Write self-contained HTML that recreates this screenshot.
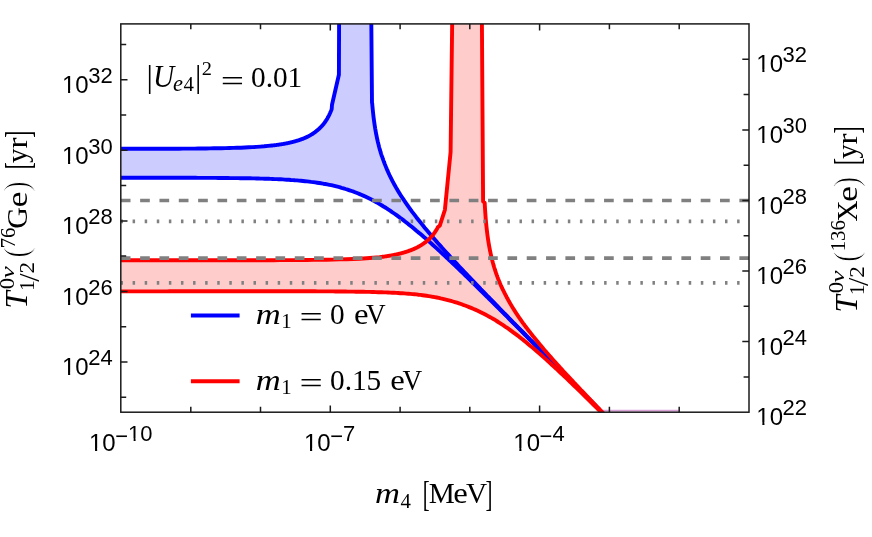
<!DOCTYPE html>
<html><head><meta charset="utf-8"><title>plot</title>
<style>html,body{margin:0;padding:0;background:#fff;overflow:hidden}body{width:872px;height:537px;position:relative;font-family:"Liberation Sans",sans-serif}</style>
</head><body>
<svg width="872" height="537" viewBox="0 0 872 537" style="position:absolute;left:0;top:0">
<defs><clipPath id="c"><rect x="120.8" y="23.9" width="628.2" height="388.3"/></clipPath></defs>
<rect width="872" height="537" fill="#fff"/>
<g clip-path="url(#c)">
<path d="M120.8,148.8 L124.7,148.8 L128.6,148.8 L132.4,148.8 L136.3,148.8 L140.2,148.8 L144.1,148.8 L147.9,148.8 L151.8,148.7 L155.7,148.7 L159.6,148.7 L163.4,148.7 L167.3,148.7 L171.2,148.7 L175.1,148.7 L179.0,148.7 L182.8,148.6 L186.7,148.6 L190.6,148.6 L194.5,148.6 L198.3,148.5 L202.2,148.5 L206.1,148.5 L210.0,148.4 L213.8,148.3 L217.7,148.3 L221.6,148.2 L225.5,148.1 L229.4,148.0 L233.2,147.9 L237.1,147.8 L241.0,147.7 L244.9,147.5 L248.7,147.3 L252.6,147.1 L256.5,146.9 L260.4,146.6 L264.2,146.3 L268.1,145.9 L272.0,145.5 L272.0,145.5 L272.3,145.5 L272.6,145.5 L272.9,145.4 L273.2,145.4 L273.5,145.4 L273.8,145.3 L274.1,145.3 L274.4,145.2 L274.7,145.2 L275.0,145.2 L275.3,145.1 L275.6,145.1 L275.9,145.1 L276.2,145.0 L276.5,145.0 L276.8,144.9 L277.1,144.9 L277.4,144.9 L277.7,144.8 L278.0,144.8 L278.3,144.7 L278.6,144.7 L278.9,144.6 L279.2,144.6 L279.5,144.5 L279.8,144.5 L280.1,144.5 L280.4,144.4 L280.7,144.4 L281.0,144.3 L281.3,144.3 L281.6,144.2 L281.9,144.2 L282.3,144.1 L282.6,144.1 L282.9,144.0 L283.2,144.0 L283.5,143.9 L283.8,143.9 L284.1,143.8 L284.4,143.7 L284.7,143.7 L285.0,143.6 L285.3,143.6 L285.6,143.5 L285.9,143.5 L286.2,143.4 L286.5,143.3 L286.8,143.3 L287.1,143.2 L287.4,143.2 L287.7,143.1 L288.0,143.0 L288.3,143.0 L288.6,142.9 L288.9,142.8 L289.2,142.8 L289.5,142.7 L289.8,142.6 L290.1,142.6 L290.4,142.5 L290.7,142.4 L291.0,142.4 L291.3,142.3 L291.6,142.2 L291.9,142.1 L292.2,142.1 L292.5,142.0 L292.8,141.9 L293.1,141.8 L293.4,141.8 L293.7,141.7 L294.0,141.6 L294.3,141.5 L294.6,141.4 L294.9,141.4 L295.2,141.3 L295.5,141.2 L295.8,141.1 L296.1,141.0 L296.4,140.9 L296.7,140.8 L297.0,140.7 L297.3,140.7 L297.6,140.6 L297.9,140.5 L298.2,140.4 L298.5,140.3 L298.8,140.2 L299.1,140.1 L299.4,140.0 L299.7,139.9 L300.0,139.8 L300.3,139.7 L300.6,139.6 L300.9,139.4 L301.2,139.3 L301.5,139.2 L301.8,139.1 L302.2,139.0 L302.5,138.9 L302.8,138.8 L303.1,138.6 L303.4,138.5 L303.7,138.4 L304.0,138.3 L304.3,138.2 L304.6,138.0 L304.9,137.9 L305.2,137.8 L305.5,137.6 L305.8,137.5 L306.1,137.4 L306.4,137.2 L306.7,137.1 L307.0,136.9 L307.3,136.8 L307.6,136.6 L307.9,136.5 L308.2,136.3 L308.5,136.2 L308.8,136.0 L309.1,135.9 L309.4,135.7 L309.7,135.5 L310.0,135.4 L310.3,135.2 L310.6,135.0 L310.9,134.9 L311.2,134.7 L311.5,134.5 L311.8,134.3 L312.1,134.1 L312.4,133.9 L312.7,133.8 L313.0,133.6 L313.3,133.4 L313.6,133.2 L313.9,133.0 L314.2,132.7 L314.5,132.5 L314.8,132.3 L315.1,132.1 L315.4,131.9 L315.7,131.7 L316.0,131.4 L316.3,131.2 L316.6,130.9 L316.9,130.7 L317.2,130.5 L317.5,130.2 L317.8,129.9 L318.1,129.7 L318.4,129.4 L318.7,129.1 L319.0,128.9 L319.3,128.6 L319.6,128.3 L319.9,128.0 L320.2,127.7 L320.5,127.4 L320.8,127.1 L321.1,126.8 L321.4,126.4 L321.7,126.1 L322.1,125.8 L322.4,125.4 L322.7,125.1 L323.0,124.7 L323.3,124.4 L323.6,124.0 L323.9,123.6 L324.2,123.2 L324.5,122.8 L324.8,122.4 L325.1,122.0 L325.4,121.5 L325.7,121.1 L326.0,120.6 L326.3,120.2 L326.6,119.7 L326.9,119.2 L327.2,118.7 L327.5,118.2 L327.8,117.6 L328.1,117.1 L328.4,116.5 L328.7,116.0 L329.0,115.4 L329.3,114.8 L329.6,114.1 L329.9,113.5 L330.2,112.8 L330.5,112.1 L330.8,111.4 L331.1,110.6 L331.4,109.9 L331.7,109.1 L332.0,104.7 L338.9,74.8 L339.1,20.0 L371.3,20.0 L372.0,102.8 L372.2,103.4 L372.4,105.8 L372.6,108.0 L372.8,110.1 L373.0,112.1 L373.2,113.9 L373.4,115.7 L373.6,117.4 L373.8,119.0 L374.0,120.5 L374.2,122.0 L374.4,123.4 L374.6,124.8 L374.8,126.1 L375.0,127.3 L375.2,128.6 L375.4,129.7 L375.6,130.9 L375.8,132.0 L376.0,133.1 L376.2,134.1 L376.4,135.2 L376.6,136.2 L376.8,137.1 L377.0,138.1 L377.2,139.0 L377.4,139.9 L377.6,140.8 L377.8,141.7 L378.0,142.5 L378.2,143.3 L378.4,144.1 L378.6,144.9 L378.8,145.7 L379.0,146.5 L379.2,147.2 L379.4,148.0 L379.6,148.7 L379.8,149.4 L380.0,150.1 L380.2,150.8 L380.4,151.5 L380.6,152.2 L380.8,152.8 L381.0,153.5 L381.2,154.1 L381.4,154.8 L381.6,155.4 L381.8,156.0 L382.1,156.6 L382.3,157.2 L382.5,157.8 L382.7,158.4 L382.9,159.0 L383.1,159.5 L383.3,160.1 L383.5,160.6 L383.7,161.2 L383.9,161.7 L384.1,162.3 L384.3,162.8 L384.5,163.3 L384.7,163.9 L384.9,164.4 L385.1,164.9 L385.3,165.4 L385.5,165.9 L385.7,166.4 L385.9,166.9 L386.1,167.4 L386.3,167.9 L386.5,168.3 L386.7,168.8 L386.9,169.3 L387.1,169.7 L387.3,170.2 L387.5,170.7 L387.7,171.1 L387.9,171.6 L388.1,172.0 L388.3,172.5 L388.5,172.9 L388.7,173.3 L388.9,173.8 L389.1,174.2 L389.3,174.6 L389.5,175.0 L389.7,175.5 L389.9,175.9 L390.1,176.3 L390.3,176.7 L390.5,177.1 L390.7,177.5 L390.9,177.9 L391.1,178.3 L391.3,178.7 L391.5,179.1 L391.7,179.5 L391.9,179.9 L392.1,180.3 L392.3,180.7 L392.5,181.1 L392.7,181.5 L392.9,181.8 L393.1,182.2 L393.3,182.6 L393.5,183.0 L393.7,183.3 L393.9,183.7 L394.1,184.1 L394.3,184.4 L394.5,184.8 L394.7,185.2 L394.9,185.5 L395.1,185.9 L395.3,186.2 L395.5,186.6 L395.7,187.0 L395.9,187.3 L396.1,187.7 L396.3,188.0 L396.5,188.3 L396.7,188.7 L396.9,189.0 L397.1,189.4 L397.3,189.7 L397.5,190.1 L397.7,190.4 L397.9,190.7 L398.1,191.1 L398.3,191.4 L398.5,191.7 L398.7,192.1 L398.9,192.4 L399.1,192.7 L399.3,193.0 L399.5,193.4 L399.7,193.7 L399.9,194.0 L400.1,194.3 L400.3,194.6 L400.5,195.0 L400.7,195.3 L400.9,195.6 L401.1,195.9 L401.3,196.2 L401.5,196.5 L401.7,196.8 L401.9,197.2 L402.2,197.5 L402.4,197.8 L402.6,198.1 L402.8,198.4 L403.0,198.7 L403.2,199.0 L403.4,199.3 L403.6,199.6 L403.8,199.9 L404.0,200.2 L404.2,200.5 L404.4,200.8 L404.6,201.1 L404.8,201.4 L405.0,201.7 L405.2,202.0 L405.4,202.3 L405.6,202.6 L405.8,202.9 L406.0,203.2 L406.2,203.5 L406.4,203.7 L406.6,204.0 L406.8,204.3 L407.0,204.6 L407.2,204.9 L407.4,205.2 L407.6,205.5 L407.8,205.7 L408.0,206.0 L408.2,206.3 L408.4,206.6 L408.6,206.9 L408.8,207.2 L409.0,207.4 L409.2,207.7 L409.4,208.0 L409.6,208.3 L409.8,208.5 L410.0,208.8 L410.2,209.1 L410.4,209.4 L410.6,209.7 L410.8,209.9 L411.0,210.2 L411.2,210.5 L411.4,210.7 L411.6,211.0 L411.8,211.3 L412.0,211.6 L412.0,211.6 L414.2,214.4 L416.3,217.2 L418.5,220.0 L420.6,222.6 L422.8,225.3 L424.9,227.9 L427.1,230.5 L429.2,233.0 L431.4,235.6 L433.5,238.0 L435.7,240.5 L437.8,243.0 L440.0,245.4 L442.1,247.8 L444.3,250.2 L446.4,252.5 L448.6,254.9 L450.7,257.2 L452.9,259.6 L455.0,261.9 L457.2,264.2 L459.3,266.5 L461.5,268.8 L463.6,271.1 L465.8,273.3 L467.9,275.6 L470.1,277.9 L472.2,280.1 L474.4,282.4 L476.5,284.6 L478.7,286.9 L480.8,289.1 L483.0,291.3 L485.2,293.6 L487.3,295.8 L489.5,298.0 L491.6,300.2 L493.8,302.4 L495.9,304.6 L498.1,306.9 L500.2,309.1 L502.4,311.3 L504.5,313.5 L506.7,315.7 L508.8,317.9 L511.0,320.1 L513.1,322.3 L515.3,324.5 L517.4,326.7 L519.6,328.8 L521.7,331.0 L523.9,333.2 L526.0,335.4 L528.2,337.6 L530.3,339.8 L532.5,342.0 L534.6,344.2 L536.8,346.4 L538.9,348.5 L541.1,350.7 L543.2,352.9 L545.4,355.1 L547.5,357.3 L549.7,359.5 L551.8,361.6 L554.0,363.8 L556.2,366.0 L558.3,368.2 L560.5,370.4 L562.6,372.5 L564.8,374.7 L566.9,376.9 L569.1,379.1 L571.2,381.3 L573.4,383.4 L575.5,385.6 L577.7,387.8 L579.8,390.0 L582.0,392.2 L584.1,394.3 L586.3,396.5 L588.4,398.7 L590.6,400.9 L592.7,403.0 L594.9,405.2 L597.0,407.4 L599.2,409.6 L601.3,411.8 L603.5,413.9 L605.6,416.1 L606.8,417.3 L604.8,415.2 L602.7,413.2 L600.7,411.1 L598.7,409.1 L596.7,407.1 L594.6,405.0 L592.6,403.0 L590.6,400.9 L588.6,398.9 L586.5,396.8 L584.5,394.8 L582.5,392.7 L580.5,390.7 L578.4,388.6 L576.4,386.6 L574.4,384.5 L572.4,382.5 L570.3,380.4 L568.3,378.4 L566.3,376.4 L564.3,374.3 L562.2,372.3 L560.2,370.2 L558.2,368.2 L556.2,366.1 L554.1,364.1 L552.1,362.0 L550.1,360.0 L548.1,358.0 L546.0,355.9 L544.0,353.9 L542.0,351.8 L540.0,349.8 L537.9,347.8 L535.9,345.7 L533.9,343.7 L531.9,341.6 L529.8,339.6 L527.8,337.6 L525.8,335.5 L523.8,333.5 L521.7,331.4 L519.7,329.4 L517.7,327.4 L515.7,325.3 L513.6,323.3 L511.6,321.3 L509.6,319.3 L507.6,317.2 L505.5,315.2 L503.5,313.2 L501.5,311.2 L499.5,309.1 L497.4,307.1 L495.4,305.1 L493.4,303.1 L491.4,301.1 L489.3,299.1 L487.3,297.0 L485.3,295.0 L483.3,293.0 L481.2,291.0 L479.2,289.0 L477.2,287.0 L475.2,285.1 L473.1,283.1 L471.1,281.1 L469.1,279.1 L467.1,277.1 L465.0,275.2 L463.0,273.2 L461.0,271.3 L459.0,269.3 L456.9,267.4 L454.9,265.4 L452.9,263.5 L450.9,261.6 L448.8,259.7 L446.8,257.8 L444.8,255.9 L442.8,254.0 L440.7,252.1 L438.7,250.2 L436.7,248.4 L434.7,246.6 L432.6,244.7 L430.6,242.9 L428.6,241.1 L426.6,239.3 L424.5,237.6 L422.5,235.8 L420.5,234.1 L418.5,232.4 L416.4,230.7 L414.4,229.0 L412.4,227.3 L410.4,225.7 L408.3,224.1 L406.3,222.5 L404.3,220.9 L402.3,219.4 L400.2,217.9 L398.2,216.4 L396.2,214.9 L394.2,213.5 L392.1,212.1 L390.1,210.7 L388.1,209.4 L386.1,208.0 L384.0,206.8 L382.0,205.5 L380.0,204.3 L378.0,203.1 L375.9,202.0 L373.9,200.9 L371.9,199.8 L369.9,198.8 L367.8,197.8 L365.8,196.8 L363.8,195.9 L361.8,195.0 L359.7,194.1 L357.7,193.3 L355.7,192.5 L353.7,191.7 L351.6,191.0 L349.6,190.3 L347.6,189.6 L345.6,189.0 L343.5,188.3 L341.5,187.8 L339.5,187.2 L337.5,186.7 L335.4,186.2 L333.4,185.7 L331.4,185.2 L329.4,184.8 L327.3,184.4 L325.3,184.0 L323.3,183.7 L321.3,183.3 L319.2,183.0 L317.2,182.7 L315.2,182.4 L313.2,182.1 L311.1,181.9 L309.1,181.6 L307.1,181.4 L305.1,181.2 L303.0,181.0 L301.0,180.8 L299.0,180.6 L297.0,180.4 L294.9,180.3 L292.9,180.1 L290.9,180.0 L288.9,179.8 L286.8,179.7 L284.8,179.6 L282.8,179.4 L280.8,179.3 L278.7,179.2 L276.7,179.1 L274.7,179.1 L272.7,179.0 L270.6,178.9 L268.6,178.8 L266.6,178.8 L264.6,178.7 L262.5,178.6 L260.5,178.6 L258.5,178.5 L256.5,178.5 L254.4,178.4 L252.4,178.4 L250.4,178.3 L248.4,178.3 L246.3,178.3 L244.3,178.2 L242.3,178.2 L240.3,178.2 L238.2,178.1 L236.2,178.1 L234.2,178.1 L232.2,178.1 L230.1,178.1 L228.1,178.0 L226.1,178.0 L224.1,178.0 L222.0,178.0 L220.0,178.0 L218.0,178.0 L216.0,177.9 L213.9,177.9 L211.9,177.9 L209.9,177.9 L207.9,177.9 L205.8,177.9 L203.8,177.9 L201.8,177.9 L199.8,177.9 L197.7,177.9 L195.7,177.8 L193.7,177.8 L191.7,177.8 L189.6,177.8 L187.6,177.8 L185.6,177.8 L183.6,177.8 L181.5,177.8 L179.5,177.8 L177.5,177.8 L175.5,177.8 L173.4,177.8 L171.4,177.8 L169.4,177.8 L167.4,177.8 L165.3,177.8 L163.3,177.8 L161.3,177.8 L159.3,177.8 L157.2,177.8 L155.2,177.8 L153.2,177.8 L151.2,177.8 L149.1,177.8 L147.1,177.8 L145.1,177.8 L143.1,177.8 L141.0,177.8 L139.0,177.8 L137.0,177.8 L135.0,177.8 L132.9,177.8 L130.9,177.8 L128.9,177.8 L126.9,177.8 L124.8,177.8 L122.8,177.8 L120.8,177.8 Z" fill="#00f" fill-opacity="0.2"/>
<path d="M120.8,260.2 L127.4,260.2 L134.1,260.2 L140.7,260.2 L147.4,260.2 L154.0,260.2 L160.6,260.2 L167.3,260.2 L173.9,260.2 L180.6,260.2 L187.2,260.2 L193.9,260.2 L200.5,260.2 L207.1,260.2 L213.8,260.2 L220.4,260.2 L227.1,260.2 L233.7,260.2 L240.3,260.2 L247.0,260.2 L253.6,260.2 L260.3,260.2 L266.9,260.2 L273.5,260.2 L280.2,260.1 L286.8,260.1 L293.5,260.1 L300.1,260.0 L306.7,260.0 L313.4,259.9 L320.0,259.8 L326.7,259.7 L333.3,259.6 L340.0,259.4 L346.6,259.2 L353.2,259.0 L359.9,258.7 L366.5,258.3 L373.2,257.8 L379.8,257.2 L379.8,257.2 L380.1,257.1 L380.4,257.1 L380.7,257.0 L381.0,257.0 L381.3,257.0 L381.6,256.9 L381.9,256.9 L382.2,256.8 L382.5,256.8 L382.8,256.8 L383.1,256.7 L383.4,256.7 L383.7,256.6 L384.0,256.6 L384.3,256.6 L384.6,256.5 L384.9,256.5 L385.2,256.4 L385.5,256.4 L385.8,256.3 L386.1,256.3 L386.4,256.2 L386.7,256.2 L387.0,256.1 L387.3,256.1 L387.6,256.0 L387.9,256.0 L388.2,256.0 L388.5,255.9 L388.8,255.9 L389.1,255.8 L389.4,255.7 L389.7,255.7 L390.1,255.6 L390.4,255.6 L390.7,255.5 L391.0,255.5 L391.3,255.4 L391.6,255.4 L391.9,255.3 L392.2,255.3 L392.5,255.2 L392.8,255.1 L393.1,255.1 L393.4,255.0 L393.7,255.0 L394.0,254.9 L394.3,254.9 L394.6,254.8 L394.9,254.7 L395.2,254.7 L395.5,254.6 L395.8,254.5 L396.1,254.5 L396.4,254.4 L396.7,254.3 L397.0,254.3 L397.3,254.2 L397.6,254.1 L397.9,254.1 L398.2,254.0 L398.5,253.9 L398.8,253.9 L399.1,253.8 L399.4,253.7 L399.7,253.6 L400.0,253.6 L400.3,253.5 L400.6,253.4 L400.9,253.3 L401.2,253.3 L401.5,253.2 L401.8,253.1 L402.1,253.0 L402.4,252.9 L402.7,252.8 L403.0,252.8 L403.3,252.7 L403.6,252.6 L403.9,252.5 L404.2,252.4 L404.5,252.3 L404.8,252.2 L405.1,252.1 L405.4,252.1 L405.7,252.0 L406.0,251.9 L406.3,251.8 L406.6,251.7 L406.9,251.6 L407.2,251.5 L407.5,251.4 L407.8,251.3 L408.1,251.2 L408.4,251.1 L408.7,251.0 L409.0,250.9 L409.3,250.7 L409.6,250.6 L410.0,250.5 L410.3,250.4 L410.6,250.3 L410.9,250.2 L411.2,250.1 L411.5,249.9 L411.8,249.8 L412.1,249.7 L412.4,249.6 L412.7,249.5 L413.0,249.3 L413.3,249.2 L413.6,249.1 L413.9,248.9 L414.2,248.8 L414.5,248.7 L414.8,248.5 L415.1,248.4 L415.4,248.2 L415.7,248.1 L416.0,248.0 L416.3,247.8 L416.6,247.7 L416.9,247.5 L417.2,247.4 L417.5,247.2 L417.8,247.0 L418.1,246.9 L418.4,246.7 L418.7,246.6 L419.0,246.4 L419.3,246.2 L419.6,246.0 L419.9,245.9 L420.2,245.7 L420.5,245.5 L420.8,245.3 L421.1,245.2 L421.4,245.0 L421.7,244.8 L422.0,244.6 L422.3,244.4 L422.6,244.2 L422.9,244.0 L423.2,243.8 L423.5,243.6 L423.8,243.4 L424.1,243.2 L424.4,243.0 L424.7,242.7 L425.0,242.5 L425.3,242.3 L425.6,242.0 L425.9,241.8 L426.2,241.6 L426.5,241.3 L426.8,241.1 L427.1,240.8 L427.4,240.6 L427.7,240.3 L428.0,240.0 L428.3,239.8 L428.6,239.5 L428.9,239.2 L429.2,238.9 L429.5,238.6 L429.9,238.3 L430.2,238.0 L430.5,237.7 L430.8,237.4 L431.1,237.0 L431.4,236.7 L431.7,236.4 L432.0,236.0 L432.3,235.6 L432.6,235.3 L432.9,234.9 L433.2,234.5 L433.5,234.1 L433.8,233.7 L434.1,233.3 L434.4,232.9 L434.7,232.5 L435.0,232.1 L435.3,231.6 L435.6,231.1 L435.9,230.7 L436.2,230.2 L436.5,229.7 L436.8,229.2 L437.1,228.7 L437.4,228.1 L437.7,227.6 L438.0,227.0 L439.8,225.7 L444.9,209.8 L450.6,152.0 L452.2,20.0 L481.9,20.0 L483.1,201.5 L484.7,202.8 L484.9,206.6 L485.1,209.9 L485.3,212.9 L485.5,215.7 L485.7,218.3 L485.9,220.7 L486.1,222.9 L486.3,225.0 L486.5,226.9 L486.7,228.8 L486.9,230.5 L487.1,232.2 L487.3,233.8 L487.5,235.4 L487.7,236.8 L487.9,238.2 L488.1,239.6 L488.3,240.9 L488.5,242.2 L488.7,243.4 L488.9,244.6 L489.1,245.7 L489.3,246.8 L489.5,247.9 L489.7,248.9 L489.9,250.0 L490.1,251.0 L490.3,251.9 L490.5,252.9 L490.7,253.8 L490.9,254.7 L491.1,255.6 L491.3,256.5 L491.5,257.3 L491.7,258.1 L491.9,258.9 L492.1,259.7 L492.3,260.5 L492.5,261.3 L492.7,262.0 L492.9,262.8 L493.1,263.5 L493.3,264.2 L493.5,264.9 L493.7,265.6 L493.9,266.3 L494.1,267.0 L494.3,267.6 L494.5,268.3 L494.7,268.9 L494.9,269.5 L495.1,270.2 L495.3,270.8 L495.5,271.4 L495.7,272.0 L495.9,272.6 L496.1,273.2 L496.3,273.7 L496.5,274.3 L496.7,274.9 L496.9,275.4 L497.1,276.0 L497.3,276.5 L497.5,277.1 L497.7,277.6 L497.9,278.1 L498.1,278.7 L498.3,279.2 L498.5,279.7 L498.7,280.2 L498.9,280.7 L499.1,281.2 L499.3,281.7 L499.5,282.2 L499.7,282.6 L499.9,283.1 L500.1,283.6 L500.3,284.1 L500.5,284.5 L500.7,285.0 L500.9,285.5 L501.1,285.9 L501.3,286.4 L501.5,286.8 L501.7,287.2 L501.9,287.7 L502.1,288.1 L502.3,288.6 L502.5,289.0 L502.7,289.4 L502.9,289.8 L503.2,290.3 L503.4,290.7 L503.6,291.1 L503.8,291.5 L504.0,291.9 L504.2,292.3 L504.4,292.7 L504.6,293.1 L504.8,293.5 L505.0,293.9 L505.2,294.3 L505.4,294.7 L505.6,295.1 L505.8,295.5 L506.0,295.9 L506.2,296.2 L506.4,296.6 L506.6,297.0 L506.8,297.4 L507.0,297.8 L507.2,298.1 L507.4,298.5 L507.6,298.9 L507.8,299.2 L508.0,299.6 L508.2,300.0 L508.4,300.3 L508.6,300.7 L508.8,301.0 L509.0,301.4 L509.2,301.7 L509.4,302.1 L509.6,302.4 L509.8,302.8 L510.0,303.1 L510.2,303.5 L510.4,303.8 L510.6,304.2 L510.8,304.5 L511.0,304.8 L511.2,305.2 L511.4,305.5 L511.6,305.8 L511.8,306.2 L512.0,306.5 L512.2,306.8 L512.4,307.2 L512.6,307.5 L512.8,307.8 L513.0,308.1 L513.2,308.5 L513.4,308.8 L513.6,309.1 L513.8,309.4 L514.0,309.7 L514.2,310.1 L514.4,310.4 L514.6,310.7 L514.8,311.0 L515.0,311.3 L515.2,311.6 L515.4,311.9 L515.6,312.3 L515.8,312.6 L516.0,312.9 L516.2,313.2 L516.4,313.5 L516.6,313.8 L516.8,314.1 L517.0,314.4 L517.2,314.7 L517.4,315.0 L517.6,315.3 L517.8,315.6 L518.0,315.9 L518.2,316.2 L518.4,316.5 L518.6,316.8 L518.8,317.1 L519.0,317.4 L519.2,317.7 L519.4,317.9 L519.6,318.2 L519.8,318.5 L520.0,318.8 L520.2,319.1 L520.4,319.4 L520.6,319.7 L520.8,320.0 L521.0,320.2 L521.2,320.5 L521.4,320.8 L521.6,321.1 L521.8,321.4 L522.0,321.7 L522.2,321.9 L522.4,322.2 L522.6,322.5 L522.8,322.8 L523.0,323.1 L523.0,323.1 L524.1,324.5 L525.1,325.9 L526.1,327.2 L527.2,328.6 L528.2,330.0 L529.2,331.3 L530.3,332.6 L531.3,333.9 L532.3,335.2 L533.3,336.5 L534.4,337.8 L535.4,339.1 L536.4,340.3 L537.5,341.6 L538.5,342.8 L539.5,344.1 L540.6,345.3 L541.6,346.5 L542.6,347.7 L543.6,349.0 L544.7,350.2 L545.7,351.4 L546.7,352.5 L547.8,353.7 L548.8,354.9 L549.8,356.1 L550.9,357.2 L551.9,358.4 L552.9,359.6 L553.9,360.7 L555.0,361.9 L556.0,363.0 L557.0,364.2 L558.1,365.3 L559.1,366.4 L560.1,367.6 L561.2,368.7 L562.2,369.8 L563.2,371.0 L564.2,372.1 L565.3,373.2 L566.3,374.3 L567.3,375.4 L568.4,376.5 L569.4,377.6 L570.4,378.7 L571.5,379.8 L572.5,380.9 L573.5,382.0 L574.5,383.1 L575.6,384.2 L576.6,385.3 L577.6,386.4 L578.7,387.5 L579.7,388.6 L580.7,389.7 L581.7,390.8 L582.8,391.8 L583.8,392.9 L584.8,394.0 L585.9,395.1 L586.9,396.2 L587.9,397.2 L589.0,398.3 L590.0,399.4 L591.0,400.5 L592.0,401.5 L593.1,402.6 L594.1,403.7 L595.1,404.7 L596.2,405.8 L597.2,406.9 L598.2,407.9 L599.3,409.0 L600.3,410.1 L601.3,411.1 L602.3,412.2 L603.4,413.3 L604.4,414.3 L605.4,415.4 L606.5,416.4 L607.5,417.5 L606.8,417.8 L604.8,415.8 L602.7,413.8 L600.7,411.8 L598.7,409.8 L596.7,407.8 L594.6,405.8 L592.6,403.8 L590.6,401.8 L588.6,399.8 L586.5,397.8 L584.5,395.8 L582.5,393.8 L580.5,391.9 L578.4,389.9 L576.4,387.9 L574.4,386.0 L572.4,384.0 L570.3,382.1 L568.3,380.1 L566.3,378.2 L564.3,376.3 L562.2,374.4 L560.2,372.5 L558.2,370.6 L556.2,368.7 L554.1,366.8 L552.1,365.0 L550.1,363.1 L548.1,361.3 L546.0,359.4 L544.0,357.6 L542.0,355.8 L540.0,354.0 L537.9,352.3 L535.9,350.5 L533.9,348.8 L531.9,347.1 L529.8,345.4 L527.8,343.7 L525.8,342.0 L523.8,340.4 L521.7,338.8 L519.7,337.2 L517.7,335.6 L515.7,334.1 L513.6,332.6 L511.6,331.1 L509.6,329.6 L507.6,328.2 L505.5,326.8 L503.5,325.4 L501.5,324.1 L499.5,322.8 L497.4,321.5 L495.4,320.2 L493.4,319.0 L491.4,317.9 L489.3,316.7 L487.3,315.6 L485.3,314.5 L483.3,313.5 L481.2,312.5 L479.2,311.5 L477.2,310.5 L475.2,309.6 L473.1,308.8 L471.1,307.9 L469.1,307.1 L467.1,306.3 L465.0,305.5 L463.0,304.8 L461.0,304.0 L459.0,303.3 L456.9,302.7 L454.9,302.1 L452.9,301.5 L450.9,300.9 L448.8,300.3 L446.8,299.8 L444.8,299.3 L442.8,298.8 L440.7,298.4 L438.7,297.9 L436.7,297.5 L434.7,297.1 L432.6,296.8 L430.6,296.4 L428.6,296.1 L426.6,295.8 L424.5,295.5 L422.5,295.2 L420.5,294.9 L418.5,294.7 L416.4,294.4 L414.4,294.2 L412.4,294.1 L410.4,293.9 L408.3,293.7 L406.3,293.6 L404.3,293.4 L402.3,293.3 L400.2,293.2 L398.2,293.0 L396.2,292.9 L394.2,292.8 L392.1,292.7 L390.1,292.6 L388.1,292.5 L386.1,292.4 L384.0,292.4 L382.0,292.3 L380.0,292.2 L378.0,292.2 L375.9,292.1 L373.9,292.0 L371.9,292.0 L369.9,291.9 L367.8,291.9 L365.8,291.9 L363.8,291.8 L361.8,291.8 L359.7,291.7 L357.7,291.7 L355.7,291.7 L353.7,291.6 L351.6,291.6 L349.6,291.6 L347.6,291.6 L345.6,291.5 L343.5,291.5 L341.5,291.5 L339.5,291.5 L337.5,291.5 L335.4,291.5 L333.4,291.4 L331.4,291.4 L329.4,291.4 L327.3,291.4 L325.3,291.4 L323.3,291.4 L321.3,291.4 L319.2,291.4 L317.2,291.4 L315.2,291.3 L313.2,291.3 L311.1,291.3 L309.1,291.3 L307.1,291.3 L305.1,291.3 L303.0,291.3 L301.0,291.3 L299.0,291.3 L297.0,291.3 L294.9,291.3 L292.9,291.3 L290.9,291.3 L288.9,291.3 L286.8,291.3 L284.8,291.3 L282.8,291.3 L280.8,291.3 L278.7,291.3 L276.7,291.3 L274.7,291.3 L272.7,291.3 L270.6,291.2 L268.6,291.2 L266.6,291.2 L264.6,291.2 L262.5,291.2 L260.5,291.2 L258.5,291.2 L256.5,291.2 L254.4,291.2 L252.4,291.2 L250.4,291.2 L248.4,291.2 L246.3,291.2 L244.3,291.2 L242.3,291.2 L240.3,291.2 L238.2,291.2 L236.2,291.3 L234.2,291.3 L232.2,291.3 L230.1,291.3 L228.1,291.3 L226.1,291.3 L224.1,291.3 L222.0,291.3 L220.0,291.3 L218.0,291.3 L216.0,291.3 L213.9,291.3 L211.9,291.3 L209.9,291.3 L207.9,291.3 L205.8,291.3 L203.8,291.3 L201.8,291.3 L199.8,291.3 L197.7,291.3 L195.7,291.3 L193.7,291.3 L191.7,291.3 L189.6,291.3 L187.6,291.3 L185.6,291.3 L183.6,291.3 L181.5,291.3 L179.5,291.3 L177.5,291.3 L175.5,291.3 L173.4,291.3 L171.4,291.3 L169.4,291.3 L167.4,291.4 L165.3,291.4 L163.3,291.4 L161.3,291.4 L159.3,291.4 L157.2,291.4 L155.2,291.4 L153.2,291.4 L151.2,291.4 L149.1,291.4 L147.1,291.4 L145.1,291.4 L143.1,291.4 L141.0,291.4 L139.0,291.4 L137.0,291.4 L135.0,291.4 L132.9,291.4 L130.9,291.4 L128.9,291.4 L126.9,291.4 L124.8,291.4 L122.8,291.4 L120.8,291.4 Z" fill="#f00" fill-opacity="0.2"/>
<path d="M603,410.7 H679" stroke="#d9a3d9" stroke-width="1.8" fill="none"/>
<path d="M120.8,148.8 L124.7,148.8 L128.6,148.8 L132.4,148.8 L136.3,148.8 L140.2,148.8 L144.1,148.8 L147.9,148.8 L151.8,148.7 L155.7,148.7 L159.6,148.7 L163.4,148.7 L167.3,148.7 L171.2,148.7 L175.1,148.7 L179.0,148.7 L182.8,148.6 L186.7,148.6 L190.6,148.6 L194.5,148.6 L198.3,148.5 L202.2,148.5 L206.1,148.5 L210.0,148.4 L213.8,148.3 L217.7,148.3 L221.6,148.2 L225.5,148.1 L229.4,148.0 L233.2,147.9 L237.1,147.8 L241.0,147.7 L244.9,147.5 L248.7,147.3 L252.6,147.1 L256.5,146.9 L260.4,146.6 L264.2,146.3 L268.1,145.9 L272.0,145.5 L272.0,145.5 L272.3,145.5 L272.6,145.5 L272.9,145.4 L273.2,145.4 L273.5,145.4 L273.8,145.3 L274.1,145.3 L274.4,145.2 L274.7,145.2 L275.0,145.2 L275.3,145.1 L275.6,145.1 L275.9,145.1 L276.2,145.0 L276.5,145.0 L276.8,144.9 L277.1,144.9 L277.4,144.9 L277.7,144.8 L278.0,144.8 L278.3,144.7 L278.6,144.7 L278.9,144.6 L279.2,144.6 L279.5,144.5 L279.8,144.5 L280.1,144.5 L280.4,144.4 L280.7,144.4 L281.0,144.3 L281.3,144.3 L281.6,144.2 L281.9,144.2 L282.3,144.1 L282.6,144.1 L282.9,144.0 L283.2,144.0 L283.5,143.9 L283.8,143.9 L284.1,143.8 L284.4,143.7 L284.7,143.7 L285.0,143.6 L285.3,143.6 L285.6,143.5 L285.9,143.5 L286.2,143.4 L286.5,143.3 L286.8,143.3 L287.1,143.2 L287.4,143.2 L287.7,143.1 L288.0,143.0 L288.3,143.0 L288.6,142.9 L288.9,142.8 L289.2,142.8 L289.5,142.7 L289.8,142.6 L290.1,142.6 L290.4,142.5 L290.7,142.4 L291.0,142.4 L291.3,142.3 L291.6,142.2 L291.9,142.1 L292.2,142.1 L292.5,142.0 L292.8,141.9 L293.1,141.8 L293.4,141.8 L293.7,141.7 L294.0,141.6 L294.3,141.5 L294.6,141.4 L294.9,141.4 L295.2,141.3 L295.5,141.2 L295.8,141.1 L296.1,141.0 L296.4,140.9 L296.7,140.8 L297.0,140.7 L297.3,140.7 L297.6,140.6 L297.9,140.5 L298.2,140.4 L298.5,140.3 L298.8,140.2 L299.1,140.1 L299.4,140.0 L299.7,139.9 L300.0,139.8 L300.3,139.7 L300.6,139.6 L300.9,139.4 L301.2,139.3 L301.5,139.2 L301.8,139.1 L302.2,139.0 L302.5,138.9 L302.8,138.8 L303.1,138.6 L303.4,138.5 L303.7,138.4 L304.0,138.3 L304.3,138.2 L304.6,138.0 L304.9,137.9 L305.2,137.8 L305.5,137.6 L305.8,137.5 L306.1,137.4 L306.4,137.2 L306.7,137.1 L307.0,136.9 L307.3,136.8 L307.6,136.6 L307.9,136.5 L308.2,136.3 L308.5,136.2 L308.8,136.0 L309.1,135.9 L309.4,135.7 L309.7,135.5 L310.0,135.4 L310.3,135.2 L310.6,135.0 L310.9,134.9 L311.2,134.7 L311.5,134.5 L311.8,134.3 L312.1,134.1 L312.4,133.9 L312.7,133.8 L313.0,133.6 L313.3,133.4 L313.6,133.2 L313.9,133.0 L314.2,132.7 L314.5,132.5 L314.8,132.3 L315.1,132.1 L315.4,131.9 L315.7,131.7 L316.0,131.4 L316.3,131.2 L316.6,130.9 L316.9,130.7 L317.2,130.5 L317.5,130.2 L317.8,129.9 L318.1,129.7 L318.4,129.4 L318.7,129.1 L319.0,128.9 L319.3,128.6 L319.6,128.3 L319.9,128.0 L320.2,127.7 L320.5,127.4 L320.8,127.1 L321.1,126.8 L321.4,126.4 L321.7,126.1 L322.1,125.8 L322.4,125.4 L322.7,125.1 L323.0,124.7 L323.3,124.4 L323.6,124.0 L323.9,123.6 L324.2,123.2 L324.5,122.8 L324.8,122.4 L325.1,122.0 L325.4,121.5 L325.7,121.1 L326.0,120.6 L326.3,120.2 L326.6,119.7 L326.9,119.2 L327.2,118.7 L327.5,118.2 L327.8,117.6 L328.1,117.1 L328.4,116.5 L328.7,116.0 L329.0,115.4 L329.3,114.8 L329.6,114.1 L329.9,113.5 L330.2,112.8 L330.5,112.1 L330.8,111.4 L331.1,110.6 L331.4,109.9 L331.7,109.1 L332.0,104.7 L338.9,74.8 L339.1,20.0" fill="none" stroke="#00f" stroke-width="3.9" stroke-linejoin="round"/>
<path d="M371.3,20.0 L372.0,102.8 L372.2,103.4 L372.4,105.8 L372.6,108.0 L372.8,110.1 L373.0,112.1 L373.2,113.9 L373.4,115.7 L373.6,117.4 L373.8,119.0 L374.0,120.5 L374.2,122.0 L374.4,123.4 L374.6,124.8 L374.8,126.1 L375.0,127.3 L375.2,128.6 L375.4,129.7 L375.6,130.9 L375.8,132.0 L376.0,133.1 L376.2,134.1 L376.4,135.2 L376.6,136.2 L376.8,137.1 L377.0,138.1 L377.2,139.0 L377.4,139.9 L377.6,140.8 L377.8,141.7 L378.0,142.5 L378.2,143.3 L378.4,144.1 L378.6,144.9 L378.8,145.7 L379.0,146.5 L379.2,147.2 L379.4,148.0 L379.6,148.7 L379.8,149.4 L380.0,150.1 L380.2,150.8 L380.4,151.5 L380.6,152.2 L380.8,152.8 L381.0,153.5 L381.2,154.1 L381.4,154.8 L381.6,155.4 L381.8,156.0 L382.1,156.6 L382.3,157.2 L382.5,157.8 L382.7,158.4 L382.9,159.0 L383.1,159.5 L383.3,160.1 L383.5,160.6 L383.7,161.2 L383.9,161.7 L384.1,162.3 L384.3,162.8 L384.5,163.3 L384.7,163.9 L384.9,164.4 L385.1,164.9 L385.3,165.4 L385.5,165.9 L385.7,166.4 L385.9,166.9 L386.1,167.4 L386.3,167.9 L386.5,168.3 L386.7,168.8 L386.9,169.3 L387.1,169.7 L387.3,170.2 L387.5,170.7 L387.7,171.1 L387.9,171.6 L388.1,172.0 L388.3,172.5 L388.5,172.9 L388.7,173.3 L388.9,173.8 L389.1,174.2 L389.3,174.6 L389.5,175.0 L389.7,175.5 L389.9,175.9 L390.1,176.3 L390.3,176.7 L390.5,177.1 L390.7,177.5 L390.9,177.9 L391.1,178.3 L391.3,178.7 L391.5,179.1 L391.7,179.5 L391.9,179.9 L392.1,180.3 L392.3,180.7 L392.5,181.1 L392.7,181.5 L392.9,181.8 L393.1,182.2 L393.3,182.6 L393.5,183.0 L393.7,183.3 L393.9,183.7 L394.1,184.1 L394.3,184.4 L394.5,184.8 L394.7,185.2 L394.9,185.5 L395.1,185.9 L395.3,186.2 L395.5,186.6 L395.7,187.0 L395.9,187.3 L396.1,187.7 L396.3,188.0 L396.5,188.3 L396.7,188.7 L396.9,189.0 L397.1,189.4 L397.3,189.7 L397.5,190.1 L397.7,190.4 L397.9,190.7 L398.1,191.1 L398.3,191.4 L398.5,191.7 L398.7,192.1 L398.9,192.4 L399.1,192.7 L399.3,193.0 L399.5,193.4 L399.7,193.7 L399.9,194.0 L400.1,194.3 L400.3,194.6 L400.5,195.0 L400.7,195.3 L400.9,195.6 L401.1,195.9 L401.3,196.2 L401.5,196.5 L401.7,196.8 L401.9,197.2 L402.2,197.5 L402.4,197.8 L402.6,198.1 L402.8,198.4 L403.0,198.7 L403.2,199.0 L403.4,199.3 L403.6,199.6 L403.8,199.9 L404.0,200.2 L404.2,200.5 L404.4,200.8 L404.6,201.1 L404.8,201.4 L405.0,201.7 L405.2,202.0 L405.4,202.3 L405.6,202.6 L405.8,202.9 L406.0,203.2 L406.2,203.5 L406.4,203.7 L406.6,204.0 L406.8,204.3 L407.0,204.6 L407.2,204.9 L407.4,205.2 L407.6,205.5 L407.8,205.7 L408.0,206.0 L408.2,206.3 L408.4,206.6 L408.6,206.9 L408.8,207.2 L409.0,207.4 L409.2,207.7 L409.4,208.0 L409.6,208.3 L409.8,208.5 L410.0,208.8 L410.2,209.1 L410.4,209.4 L410.6,209.7 L410.8,209.9 L411.0,210.2 L411.2,210.5 L411.4,210.7 L411.6,211.0 L411.8,211.3 L412.0,211.6 L412.0,211.6 L414.2,214.4 L416.3,217.2 L418.5,220.0 L420.6,222.6 L422.8,225.3 L424.9,227.9 L427.1,230.5 L429.2,233.0 L431.4,235.6 L433.5,238.0 L435.7,240.5 L437.8,243.0 L440.0,245.4 L442.1,247.8 L444.3,250.2 L446.4,252.5 L448.6,254.9 L450.7,257.2 L452.9,259.6 L455.0,261.9 L457.2,264.2 L459.3,266.5 L461.5,268.8 L463.6,271.1 L465.8,273.3 L467.9,275.6 L470.1,277.9 L472.2,280.1 L474.4,282.4 L476.5,284.6 L478.7,286.9 L480.8,289.1 L483.0,291.3 L485.2,293.6 L487.3,295.8 L489.5,298.0 L491.6,300.2 L493.8,302.4 L495.9,304.6 L498.1,306.9 L500.2,309.1 L502.4,311.3 L504.5,313.5 L506.7,315.7 L508.8,317.9 L511.0,320.1 L513.1,322.3 L515.3,324.5 L517.4,326.7 L519.6,328.8 L521.7,331.0 L523.9,333.2 L526.0,335.4 L528.2,337.6 L530.3,339.8 L532.5,342.0 L534.6,344.2 L536.8,346.4 L538.9,348.5 L541.1,350.7 L543.2,352.9 L545.4,355.1 L547.5,357.3 L549.7,359.5 L551.8,361.6 L554.0,363.8 L556.2,366.0 L558.3,368.2 L560.5,370.4 L562.6,372.5 L564.8,374.7 L566.9,376.9 L569.1,379.1 L571.2,381.3 L573.4,383.4 L575.5,385.6 L577.7,387.8 L579.8,390.0 L582.0,392.2 L584.1,394.3 L586.3,396.5 L588.4,398.7 L590.6,400.9 L592.7,403.0 L594.9,405.2 L597.0,407.4 L599.2,409.6 L601.3,411.8 L603.5,413.9 L605.6,416.1" fill="none" stroke="#00f" stroke-width="3.9" stroke-linejoin="round"/>
<path d="M120.8,177.8 L122.8,177.8 L124.8,177.8 L126.9,177.8 L128.9,177.8 L130.9,177.8 L132.9,177.8 L135.0,177.8 L137.0,177.8 L139.0,177.8 L141.0,177.8 L143.1,177.8 L145.1,177.8 L147.1,177.8 L149.1,177.8 L151.2,177.8 L153.2,177.8 L155.2,177.8 L157.2,177.8 L159.3,177.8 L161.3,177.8 L163.3,177.8 L165.3,177.8 L167.4,177.8 L169.4,177.8 L171.4,177.8 L173.4,177.8 L175.5,177.8 L177.5,177.8 L179.5,177.8 L181.5,177.8 L183.6,177.8 L185.6,177.8 L187.6,177.8 L189.6,177.8 L191.7,177.8 L193.7,177.8 L195.7,177.8 L197.7,177.9 L199.8,177.9 L201.8,177.9 L203.8,177.9 L205.8,177.9 L207.9,177.9 L209.9,177.9 L211.9,177.9 L213.9,177.9 L216.0,177.9 L218.0,178.0 L220.0,178.0 L222.0,178.0 L224.1,178.0 L226.1,178.0 L228.1,178.0 L230.1,178.1 L232.2,178.1 L234.2,178.1 L236.2,178.1 L238.2,178.1 L240.3,178.2 L242.3,178.2 L244.3,178.2 L246.3,178.3 L248.4,178.3 L250.4,178.3 L252.4,178.4 L254.4,178.4 L256.5,178.5 L258.5,178.5 L260.5,178.6 L262.5,178.6 L264.6,178.7 L266.6,178.8 L268.6,178.8 L270.6,178.9 L272.7,179.0 L274.7,179.1 L276.7,179.1 L278.7,179.2 L280.8,179.3 L282.8,179.4 L284.8,179.6 L286.8,179.7 L288.9,179.8 L290.9,180.0 L292.9,180.1 L294.9,180.3 L297.0,180.4 L299.0,180.6 L301.0,180.8 L303.0,181.0 L305.1,181.2 L307.1,181.4 L309.1,181.6 L311.1,181.9 L313.2,182.1 L315.2,182.4 L317.2,182.7 L319.2,183.0 L321.3,183.3 L323.3,183.7 L325.3,184.0 L327.3,184.4 L329.4,184.8 L331.4,185.2 L333.4,185.7 L335.4,186.2 L337.5,186.7 L339.5,187.2 L341.5,187.8 L343.5,188.3 L345.6,189.0 L347.6,189.6 L349.6,190.3 L351.6,191.0 L353.7,191.7 L355.7,192.5 L357.7,193.3 L359.7,194.1 L361.8,195.0 L363.8,195.9 L365.8,196.8 L367.8,197.8 L369.9,198.8 L371.9,199.8 L373.9,200.9 L375.9,202.0 L378.0,203.1 L380.0,204.3 L382.0,205.5 L384.0,206.8 L386.1,208.0 L388.1,209.4 L390.1,210.7 L392.1,212.1 L394.2,213.5 L396.2,214.9 L398.2,216.4 L400.2,217.9 L402.3,219.4 L404.3,220.9 L406.3,222.5 L408.3,224.1 L410.4,225.7 L412.4,227.3 L414.4,229.0 L416.4,230.7 L418.5,232.4 L420.5,234.1 L422.5,235.8 L424.5,237.6 L426.6,239.3 L428.6,241.1 L430.6,242.9 L432.6,244.7 L434.7,246.6 L436.7,248.4 L438.7,250.2 L440.7,252.1 L442.8,254.0 L444.8,255.9 L446.8,257.8 L448.8,259.7 L450.9,261.6 L452.9,263.5 L454.9,265.4 L456.9,267.4 L459.0,269.3 L461.0,271.3 L463.0,273.2 L465.0,275.2 L467.1,277.1 L469.1,279.1 L471.1,281.1 L473.1,283.1 L475.2,285.1 L477.2,287.0 L479.2,289.0 L481.2,291.0 L483.3,293.0 L485.3,295.0 L487.3,297.0 L489.3,299.1 L491.4,301.1 L493.4,303.1 L495.4,305.1 L497.4,307.1 L499.5,309.1 L501.5,311.2 L503.5,313.2 L505.5,315.2 L507.6,317.2 L509.6,319.3 L511.6,321.3 L513.6,323.3 L515.7,325.3 L517.7,327.4 L519.7,329.4 L521.7,331.4 L523.8,333.5 L525.8,335.5 L527.8,337.6 L529.8,339.6 L531.9,341.6 L533.9,343.7 L535.9,345.7 L537.9,347.8 L540.0,349.8 L542.0,351.8 L544.0,353.9 L546.0,355.9 L548.1,358.0 L550.1,360.0 L552.1,362.0 L554.1,364.1 L556.2,366.1 L558.2,368.2 L560.2,370.2 L562.2,372.3 L564.3,374.3 L566.3,376.4 L568.3,378.4 L570.3,380.4 L572.4,382.5 L574.4,384.5 L576.4,386.6 L578.4,388.6 L580.5,390.7 L582.5,392.7 L584.5,394.8 L586.5,396.8 L588.6,398.9 L590.6,400.9 L592.6,403.0 L594.6,405.0 L596.7,407.1 L598.7,409.1 L600.7,411.1 L602.7,413.2 L604.8,415.2 L606.8,417.3" fill="none" stroke="#00f" stroke-width="3.9" stroke-linejoin="round"/>
<path d="M120.8,260.2 L127.4,260.2 L134.1,260.2 L140.7,260.2 L147.4,260.2 L154.0,260.2 L160.6,260.2 L167.3,260.2 L173.9,260.2 L180.6,260.2 L187.2,260.2 L193.9,260.2 L200.5,260.2 L207.1,260.2 L213.8,260.2 L220.4,260.2 L227.1,260.2 L233.7,260.2 L240.3,260.2 L247.0,260.2 L253.6,260.2 L260.3,260.2 L266.9,260.2 L273.5,260.2 L280.2,260.1 L286.8,260.1 L293.5,260.1 L300.1,260.0 L306.7,260.0 L313.4,259.9 L320.0,259.8 L326.7,259.7 L333.3,259.6 L340.0,259.4 L346.6,259.2 L353.2,259.0 L359.9,258.7 L366.5,258.3 L373.2,257.8 L379.8,257.2 L379.8,257.2 L380.1,257.1 L380.4,257.1 L380.7,257.0 L381.0,257.0 L381.3,257.0 L381.6,256.9 L381.9,256.9 L382.2,256.8 L382.5,256.8 L382.8,256.8 L383.1,256.7 L383.4,256.7 L383.7,256.6 L384.0,256.6 L384.3,256.6 L384.6,256.5 L384.9,256.5 L385.2,256.4 L385.5,256.4 L385.8,256.3 L386.1,256.3 L386.4,256.2 L386.7,256.2 L387.0,256.1 L387.3,256.1 L387.6,256.0 L387.9,256.0 L388.2,256.0 L388.5,255.9 L388.8,255.9 L389.1,255.8 L389.4,255.7 L389.7,255.7 L390.1,255.6 L390.4,255.6 L390.7,255.5 L391.0,255.5 L391.3,255.4 L391.6,255.4 L391.9,255.3 L392.2,255.3 L392.5,255.2 L392.8,255.1 L393.1,255.1 L393.4,255.0 L393.7,255.0 L394.0,254.9 L394.3,254.9 L394.6,254.8 L394.9,254.7 L395.2,254.7 L395.5,254.6 L395.8,254.5 L396.1,254.5 L396.4,254.4 L396.7,254.3 L397.0,254.3 L397.3,254.2 L397.6,254.1 L397.9,254.1 L398.2,254.0 L398.5,253.9 L398.8,253.9 L399.1,253.8 L399.4,253.7 L399.7,253.6 L400.0,253.6 L400.3,253.5 L400.6,253.4 L400.9,253.3 L401.2,253.3 L401.5,253.2 L401.8,253.1 L402.1,253.0 L402.4,252.9 L402.7,252.8 L403.0,252.8 L403.3,252.7 L403.6,252.6 L403.9,252.5 L404.2,252.4 L404.5,252.3 L404.8,252.2 L405.1,252.1 L405.4,252.1 L405.7,252.0 L406.0,251.9 L406.3,251.8 L406.6,251.7 L406.9,251.6 L407.2,251.5 L407.5,251.4 L407.8,251.3 L408.1,251.2 L408.4,251.1 L408.7,251.0 L409.0,250.9 L409.3,250.7 L409.6,250.6 L410.0,250.5 L410.3,250.4 L410.6,250.3 L410.9,250.2 L411.2,250.1 L411.5,249.9 L411.8,249.8 L412.1,249.7 L412.4,249.6 L412.7,249.5 L413.0,249.3 L413.3,249.2 L413.6,249.1 L413.9,248.9 L414.2,248.8 L414.5,248.7 L414.8,248.5 L415.1,248.4 L415.4,248.2 L415.7,248.1 L416.0,248.0 L416.3,247.8 L416.6,247.7 L416.9,247.5 L417.2,247.4 L417.5,247.2 L417.8,247.0 L418.1,246.9 L418.4,246.7 L418.7,246.6 L419.0,246.4 L419.3,246.2 L419.6,246.0 L419.9,245.9 L420.2,245.7 L420.5,245.5 L420.8,245.3 L421.1,245.2 L421.4,245.0 L421.7,244.8 L422.0,244.6 L422.3,244.4 L422.6,244.2 L422.9,244.0 L423.2,243.8 L423.5,243.6 L423.8,243.4 L424.1,243.2 L424.4,243.0 L424.7,242.7 L425.0,242.5 L425.3,242.3 L425.6,242.0 L425.9,241.8 L426.2,241.6 L426.5,241.3 L426.8,241.1 L427.1,240.8 L427.4,240.6 L427.7,240.3 L428.0,240.0 L428.3,239.8 L428.6,239.5 L428.9,239.2 L429.2,238.9 L429.5,238.6 L429.9,238.3 L430.2,238.0 L430.5,237.7 L430.8,237.4 L431.1,237.0 L431.4,236.7 L431.7,236.4 L432.0,236.0 L432.3,235.6 L432.6,235.3 L432.9,234.9 L433.2,234.5 L433.5,234.1 L433.8,233.7 L434.1,233.3 L434.4,232.9 L434.7,232.5 L435.0,232.1 L435.3,231.6 L435.6,231.1 L435.9,230.7 L436.2,230.2 L436.5,229.7 L436.8,229.2 L437.1,228.7 L437.4,228.1 L437.7,227.6 L438.0,227.0 L439.8,225.7 L444.9,209.8 L450.6,152.0 L452.2,20.0" fill="none" stroke="#f00" stroke-width="3.9" stroke-linejoin="round"/>
<path d="M481.9,20.0 L483.1,201.5 L484.7,202.8 L484.9,206.6 L485.1,209.9 L485.3,212.9 L485.5,215.7 L485.7,218.3 L485.9,220.7 L486.1,222.9 L486.3,225.0 L486.5,226.9 L486.7,228.8 L486.9,230.5 L487.1,232.2 L487.3,233.8 L487.5,235.4 L487.7,236.8 L487.9,238.2 L488.1,239.6 L488.3,240.9 L488.5,242.2 L488.7,243.4 L488.9,244.6 L489.1,245.7 L489.3,246.8 L489.5,247.9 L489.7,248.9 L489.9,250.0 L490.1,251.0 L490.3,251.9 L490.5,252.9 L490.7,253.8 L490.9,254.7 L491.1,255.6 L491.3,256.5 L491.5,257.3 L491.7,258.1 L491.9,258.9 L492.1,259.7 L492.3,260.5 L492.5,261.3 L492.7,262.0 L492.9,262.8 L493.1,263.5 L493.3,264.2 L493.5,264.9 L493.7,265.6 L493.9,266.3 L494.1,267.0 L494.3,267.6 L494.5,268.3 L494.7,268.9 L494.9,269.5 L495.1,270.2 L495.3,270.8 L495.5,271.4 L495.7,272.0 L495.9,272.6 L496.1,273.2 L496.3,273.7 L496.5,274.3 L496.7,274.9 L496.9,275.4 L497.1,276.0 L497.3,276.5 L497.5,277.1 L497.7,277.6 L497.9,278.1 L498.1,278.7 L498.3,279.2 L498.5,279.7 L498.7,280.2 L498.9,280.7 L499.1,281.2 L499.3,281.7 L499.5,282.2 L499.7,282.6 L499.9,283.1 L500.1,283.6 L500.3,284.1 L500.5,284.5 L500.7,285.0 L500.9,285.5 L501.1,285.9 L501.3,286.4 L501.5,286.8 L501.7,287.2 L501.9,287.7 L502.1,288.1 L502.3,288.6 L502.5,289.0 L502.7,289.4 L502.9,289.8 L503.2,290.3 L503.4,290.7 L503.6,291.1 L503.8,291.5 L504.0,291.9 L504.2,292.3 L504.4,292.7 L504.6,293.1 L504.8,293.5 L505.0,293.9 L505.2,294.3 L505.4,294.7 L505.6,295.1 L505.8,295.5 L506.0,295.9 L506.2,296.2 L506.4,296.6 L506.6,297.0 L506.8,297.4 L507.0,297.8 L507.2,298.1 L507.4,298.5 L507.6,298.9 L507.8,299.2 L508.0,299.6 L508.2,300.0 L508.4,300.3 L508.6,300.7 L508.8,301.0 L509.0,301.4 L509.2,301.7 L509.4,302.1 L509.6,302.4 L509.8,302.8 L510.0,303.1 L510.2,303.5 L510.4,303.8 L510.6,304.2 L510.8,304.5 L511.0,304.8 L511.2,305.2 L511.4,305.5 L511.6,305.8 L511.8,306.2 L512.0,306.5 L512.2,306.8 L512.4,307.2 L512.6,307.5 L512.8,307.8 L513.0,308.1 L513.2,308.5 L513.4,308.8 L513.6,309.1 L513.8,309.4 L514.0,309.7 L514.2,310.1 L514.4,310.4 L514.6,310.7 L514.8,311.0 L515.0,311.3 L515.2,311.6 L515.4,311.9 L515.6,312.3 L515.8,312.6 L516.0,312.9 L516.2,313.2 L516.4,313.5 L516.6,313.8 L516.8,314.1 L517.0,314.4 L517.2,314.7 L517.4,315.0 L517.6,315.3 L517.8,315.6 L518.0,315.9 L518.2,316.2 L518.4,316.5 L518.6,316.8 L518.8,317.1 L519.0,317.4 L519.2,317.7 L519.4,317.9 L519.6,318.2 L519.8,318.5 L520.0,318.8 L520.2,319.1 L520.4,319.4 L520.6,319.7 L520.8,320.0 L521.0,320.2 L521.2,320.5 L521.4,320.8 L521.6,321.1 L521.8,321.4 L522.0,321.7 L522.2,321.9 L522.4,322.2 L522.6,322.5 L522.8,322.8 L523.0,323.1 L523.0,323.1 L524.1,324.5 L525.1,325.9 L526.1,327.2 L527.2,328.6 L528.2,330.0 L529.2,331.3 L530.3,332.6 L531.3,333.9 L532.3,335.2 L533.3,336.5 L534.4,337.8 L535.4,339.1 L536.4,340.3 L537.5,341.6 L538.5,342.8 L539.5,344.1 L540.6,345.3 L541.6,346.5 L542.6,347.7 L543.6,349.0 L544.7,350.2 L545.7,351.4 L546.7,352.5 L547.8,353.7 L548.8,354.9 L549.8,356.1 L550.9,357.2 L551.9,358.4 L552.9,359.6 L553.9,360.7 L555.0,361.9 L556.0,363.0 L557.0,364.2 L558.1,365.3 L559.1,366.4 L560.1,367.6 L561.2,368.7 L562.2,369.8 L563.2,371.0 L564.2,372.1 L565.3,373.2 L566.3,374.3 L567.3,375.4 L568.4,376.5 L569.4,377.6 L570.4,378.7 L571.5,379.8 L572.5,380.9 L573.5,382.0 L574.5,383.1 L575.6,384.2 L576.6,385.3 L577.6,386.4 L578.7,387.5 L579.7,388.6 L580.7,389.7 L581.7,390.8 L582.8,391.8 L583.8,392.9 L584.8,394.0 L585.9,395.1 L586.9,396.2 L587.9,397.2 L589.0,398.3 L590.0,399.4 L591.0,400.5 L592.0,401.5 L593.1,402.6 L594.1,403.7 L595.1,404.7 L596.2,405.8 L597.2,406.9 L598.2,407.9 L599.3,409.0 L600.3,410.1 L601.3,411.1 L602.3,412.2 L603.4,413.3 L604.4,414.3 L605.4,415.4 L606.5,416.4 L607.5,417.5" fill="none" stroke="#f00" stroke-width="3.9" stroke-linejoin="round"/>
<path d="M120.8,291.4 L122.8,291.4 L124.8,291.4 L126.9,291.4 L128.9,291.4 L130.9,291.4 L132.9,291.4 L135.0,291.4 L137.0,291.4 L139.0,291.4 L141.0,291.4 L143.1,291.4 L145.1,291.4 L147.1,291.4 L149.1,291.4 L151.2,291.4 L153.2,291.4 L155.2,291.4 L157.2,291.4 L159.3,291.4 L161.3,291.4 L163.3,291.4 L165.3,291.4 L167.4,291.4 L169.4,291.3 L171.4,291.3 L173.4,291.3 L175.5,291.3 L177.5,291.3 L179.5,291.3 L181.5,291.3 L183.6,291.3 L185.6,291.3 L187.6,291.3 L189.6,291.3 L191.7,291.3 L193.7,291.3 L195.7,291.3 L197.7,291.3 L199.8,291.3 L201.8,291.3 L203.8,291.3 L205.8,291.3 L207.9,291.3 L209.9,291.3 L211.9,291.3 L213.9,291.3 L216.0,291.3 L218.0,291.3 L220.0,291.3 L222.0,291.3 L224.1,291.3 L226.1,291.3 L228.1,291.3 L230.1,291.3 L232.2,291.3 L234.2,291.3 L236.2,291.3 L238.2,291.2 L240.3,291.2 L242.3,291.2 L244.3,291.2 L246.3,291.2 L248.4,291.2 L250.4,291.2 L252.4,291.2 L254.4,291.2 L256.5,291.2 L258.5,291.2 L260.5,291.2 L262.5,291.2 L264.6,291.2 L266.6,291.2 L268.6,291.2 L270.6,291.2 L272.7,291.3 L274.7,291.3 L276.7,291.3 L278.7,291.3 L280.8,291.3 L282.8,291.3 L284.8,291.3 L286.8,291.3 L288.9,291.3 L290.9,291.3 L292.9,291.3 L294.9,291.3 L297.0,291.3 L299.0,291.3 L301.0,291.3 L303.0,291.3 L305.1,291.3 L307.1,291.3 L309.1,291.3 L311.1,291.3 L313.2,291.3 L315.2,291.3 L317.2,291.4 L319.2,291.4 L321.3,291.4 L323.3,291.4 L325.3,291.4 L327.3,291.4 L329.4,291.4 L331.4,291.4 L333.4,291.4 L335.4,291.5 L337.5,291.5 L339.5,291.5 L341.5,291.5 L343.5,291.5 L345.6,291.5 L347.6,291.6 L349.6,291.6 L351.6,291.6 L353.7,291.6 L355.7,291.7 L357.7,291.7 L359.7,291.7 L361.8,291.8 L363.8,291.8 L365.8,291.9 L367.8,291.9 L369.9,291.9 L371.9,292.0 L373.9,292.0 L375.9,292.1 L378.0,292.2 L380.0,292.2 L382.0,292.3 L384.0,292.4 L386.1,292.4 L388.1,292.5 L390.1,292.6 L392.1,292.7 L394.2,292.8 L396.2,292.9 L398.2,293.0 L400.2,293.2 L402.3,293.3 L404.3,293.4 L406.3,293.6 L408.3,293.7 L410.4,293.9 L412.4,294.1 L414.4,294.2 L416.4,294.4 L418.5,294.7 L420.5,294.9 L422.5,295.2 L424.5,295.5 L426.6,295.8 L428.6,296.1 L430.6,296.4 L432.6,296.8 L434.7,297.1 L436.7,297.5 L438.7,297.9 L440.7,298.4 L442.8,298.8 L444.8,299.3 L446.8,299.8 L448.8,300.3 L450.9,300.9 L452.9,301.5 L454.9,302.1 L456.9,302.7 L459.0,303.3 L461.0,304.0 L463.0,304.8 L465.0,305.5 L467.1,306.3 L469.1,307.1 L471.1,307.9 L473.1,308.8 L475.2,309.6 L477.2,310.5 L479.2,311.5 L481.2,312.5 L483.3,313.5 L485.3,314.5 L487.3,315.6 L489.3,316.7 L491.4,317.9 L493.4,319.0 L495.4,320.2 L497.4,321.5 L499.5,322.8 L501.5,324.1 L503.5,325.4 L505.5,326.8 L507.6,328.2 L509.6,329.6 L511.6,331.1 L513.6,332.6 L515.7,334.1 L517.7,335.6 L519.7,337.2 L521.7,338.8 L523.8,340.4 L525.8,342.0 L527.8,343.7 L529.8,345.4 L531.9,347.1 L533.9,348.8 L535.9,350.5 L537.9,352.3 L540.0,354.0 L542.0,355.8 L544.0,357.6 L546.0,359.4 L548.1,361.3 L550.1,363.1 L552.1,365.0 L554.1,366.8 L556.2,368.7 L558.2,370.6 L560.2,372.5 L562.2,374.4 L564.3,376.3 L566.3,378.2 L568.3,380.1 L570.3,382.1 L572.4,384.0 L574.4,386.0 L576.4,387.9 L578.4,389.9 L580.5,391.9 L582.5,393.8 L584.5,395.8 L586.5,397.8 L588.6,399.8 L590.6,401.8 L592.6,403.8 L594.6,405.8 L596.7,407.8 L598.7,409.8 L600.7,411.8 L602.7,413.8 L604.8,415.8 L606.8,417.8" fill="none" stroke="#f00" stroke-width="3.9" stroke-linejoin="round"/>
<path d="M120.8,200.5 H749.0" stroke="#808080" stroke-width="3.7" stroke-dasharray="9.7 9.63" fill="none"/>
<path d="M120.8,258.2 H749.0" stroke="#808080" stroke-width="3.7" stroke-dasharray="9.7 9.63" fill="none"/>
<path d="M120.5,221.3 H749.0" stroke="#808080" stroke-width="3.7" stroke-dasharray="2.5 9.59" fill="none"/>
<path d="M120.5,282.8 H749.0" stroke="#808080" stroke-width="3.7" stroke-dasharray="2.5 9.59" fill="none"/>
</g>
<path d="M190.9,315.6 H239.6" stroke="#00f" stroke-width="4"/>
<path d="M190.9,381.2 H239.6" stroke="#f00" stroke-width="4"/>
<rect x="120.8" y="23.9" width="628.2" height="388.3" fill="none" stroke="#1a1a1a" stroke-width="1.5"/>
<path d="M190.8,412.2 v-5.4 M190.8,23.9 v5.4 M260.5,412.2 v-5.4 M260.5,23.9 v5.4 M330.3,412.2 v-6.7 M330.3,23.9 v6.7 M400.1,412.2 v-5.4 M400.1,23.9 v5.4 M469.8,412.2 v-5.4 M469.8,23.9 v5.4 M539.6,412.2 v-6.7 M539.6,23.9 v6.7 M609.4,412.2 v-5.4 M609.4,23.9 v5.4 M679.2,412.2 v-5.4 M679.2,23.9 v5.4 M120.8,397.3 h5.4 M120.8,362.0 h6.7 M120.8,326.7 h5.4 M120.8,291.4 h6.7 M120.8,256.1 h5.4 M120.8,220.9 h6.7 M120.8,185.6 h5.4 M120.8,150.3 h6.7 M120.8,115.0 h5.4 M120.8,79.7 h6.7 M120.8,44.4 h5.4 M749.0,376.9 h-5.4 M749.0,341.6 h-6.7 M749.0,306.3 h-5.4 M749.0,271.0 h-6.7 M749.0,235.8 h-5.4 M749.0,200.5 h-6.7 M749.0,165.2 h-5.4 M749.0,129.9 h-6.7 M749.0,94.6 h-5.4 M749.0,59.3 h-6.7" stroke="#1a1a1a" stroke-width="1.5" fill="none"/>
</svg>
<svg width="872" height="537" viewBox="0 0 872 537" style="position:absolute;left:0;top:0;will-change:transform;filter:grayscale(1)">
<defs><clipPath id="nf1" clipPathUnits="userSpaceOnUse"><path clip-rule="evenodd" d="M-5,-40 H80 V12 H-5 Z M0.83,-2.69 H6.04 V3 H0.83 Z M8.16,-2.69 H13.18 V3 H8.16 Z"/></clipPath><clipPath id="nf2" clipPathUnits="userSpaceOnUse"><path clip-rule="evenodd" d="M-5,-40 H80 V12 H-5 Z M0.68,-2.54 H5.53 V3 H0.68 Z M7.48,-2.54 H12.16 V3 H7.48 Z"/></clipPath></defs>
<text transform="translate(62.0,92.9) scale(1,1.035)" font-family="Liberation Sans, sans-serif" font-size="24.0" fill="#000" clip-path="url(#nf1)">10</text>
<text transform="translate(88.3,83.0) scale(1,1.035)" font-family="Liberation Sans, sans-serif" font-size="22.0" fill="#000">32</text>
<text transform="translate(62.0,163.5) scale(1,1.035)" font-family="Liberation Sans, sans-serif" font-size="24.0" fill="#000" clip-path="url(#nf1)">10</text>
<text transform="translate(88.3,153.5) scale(1,1.035)" font-family="Liberation Sans, sans-serif" font-size="22.0" fill="#000">30</text>
<text transform="translate(62.0,234.1) scale(1,1.035)" font-family="Liberation Sans, sans-serif" font-size="24.0" fill="#000" clip-path="url(#nf1)">10</text>
<text transform="translate(88.3,224.1) scale(1,1.035)" font-family="Liberation Sans, sans-serif" font-size="22.0" fill="#000">28</text>
<text transform="translate(62.0,304.6) scale(1,1.035)" font-family="Liberation Sans, sans-serif" font-size="24.0" fill="#000" clip-path="url(#nf1)">10</text>
<text transform="translate(88.3,294.7) scale(1,1.035)" font-family="Liberation Sans, sans-serif" font-size="22.0" fill="#000">26</text>
<text transform="translate(62.0,375.2) scale(1,1.035)" font-family="Liberation Sans, sans-serif" font-size="24.0" fill="#000" clip-path="url(#nf1)">10</text>
<text transform="translate(88.3,365.3) scale(1,1.035)" font-family="Liberation Sans, sans-serif" font-size="22.0" fill="#000">24</text>
<text transform="translate(756.3,72.4) scale(1,1.035)" font-family="Liberation Sans, sans-serif" font-size="24.0" fill="#000" clip-path="url(#nf1)">10</text>
<text transform="translate(782.6,62.4) scale(1,1.035)" font-family="Liberation Sans, sans-serif" font-size="22.0" fill="#000">32</text>
<text transform="translate(756.3,143.0) scale(1,1.035)" font-family="Liberation Sans, sans-serif" font-size="24.0" fill="#000" clip-path="url(#nf1)">10</text>
<text transform="translate(782.6,133.0) scale(1,1.035)" font-family="Liberation Sans, sans-serif" font-size="22.0" fill="#000">30</text>
<text transform="translate(756.3,213.6) scale(1,1.035)" font-family="Liberation Sans, sans-serif" font-size="24.0" fill="#000" clip-path="url(#nf1)">10</text>
<text transform="translate(782.6,203.6) scale(1,1.035)" font-family="Liberation Sans, sans-serif" font-size="22.0" fill="#000">28</text>
<text transform="translate(756.3,284.1) scale(1,1.035)" font-family="Liberation Sans, sans-serif" font-size="24.0" fill="#000" clip-path="url(#nf1)">10</text>
<text transform="translate(782.6,274.2) scale(1,1.035)" font-family="Liberation Sans, sans-serif" font-size="22.0" fill="#000">26</text>
<text transform="translate(756.3,354.7) scale(1,1.035)" font-family="Liberation Sans, sans-serif" font-size="24.0" fill="#000" clip-path="url(#nf1)">10</text>
<text transform="translate(782.6,344.8) scale(1,1.035)" font-family="Liberation Sans, sans-serif" font-size="22.0" fill="#000">24</text>
<text transform="translate(756.3,425.3) scale(1,1.035)" font-family="Liberation Sans, sans-serif" font-size="24.0" fill="#000" clip-path="url(#nf1)">10</text>
<text transform="translate(782.6,415.4) scale(1,1.035)" font-family="Liberation Sans, sans-serif" font-size="22.0" fill="#000">22</text>
<text transform="translate(89.0,451.1) scale(1,1.035)" font-family="Liberation Sans, sans-serif" font-size="24.0" fill="#000" clip-path="url(#nf1)">10</text>
<text transform="translate(115.3,443.9) scale(1,1.035)" font-family="Liberation Sans, sans-serif" font-size="22.0" fill="#000">−</text>
<text transform="translate(128.1,441.2) scale(1,1.035)" font-family="Liberation Sans, sans-serif" font-size="22.0" fill="#000" clip-path="url(#nf2)">10</text>
<text transform="translate(304.0,451.1) scale(1,1.035)" font-family="Liberation Sans, sans-serif" font-size="24.0" fill="#000" clip-path="url(#nf1)">10</text>
<text transform="translate(330.3,443.9) scale(1,1.035)" font-family="Liberation Sans, sans-serif" font-size="22.0" fill="#000">−</text>
<text transform="translate(343.1,441.2) scale(1,1.035)" font-family="Liberation Sans, sans-serif" font-size="22.0" fill="#000">7</text>
<text transform="translate(513.3,451.1) scale(1,1.035)" font-family="Liberation Sans, sans-serif" font-size="24.0" fill="#000" clip-path="url(#nf1)">10</text>
<text transform="translate(539.6,443.9) scale(1,1.035)" font-family="Liberation Sans, sans-serif" font-size="22.0" fill="#000">−</text>
<text transform="translate(552.4,441.2) scale(1,1.035)" font-family="Liberation Sans, sans-serif" font-size="22.0" fill="#000">4</text>
<text transform="translate(146.61,87.04) scale(1.100,1.095)" font-family="Liberation Serif, serif" font-size="29.0" fill="#000">|</text>
<text transform="translate(153.10,87.00) scale(0.980,1.040)" font-family="Liberation Serif, serif" font-size="30.0" font-style="italic" fill="#000">U</text>
<text transform="translate(173.10,91.10)" font-family="Liberation Serif, serif" font-size="22.5" font-style="italic" fill="#000">e</text>
<text transform="translate(183.40,91.10)" font-family="Liberation Serif, serif" font-size="20.8" fill="#000">4</text>
<text transform="translate(194.91,87.04) scale(1.100,1.095)" font-family="Liberation Serif, serif" font-size="29.0" fill="#000">|</text>
<text transform="translate(201.80,75.00) scale(1.030,1.000)" font-family="Liberation Serif, serif" font-size="19.8" fill="#000">2</text>
<text transform="translate(220.74,90.80) scale(1.424,1.000)" font-family="Liberation Serif, serif" font-size="29.0" fill="#000">=</text>
<text transform="translate(250.99,87.00)" font-family="Liberation Serif, serif" font-size="29.3" fill="#000">0.01</text>
<text transform="translate(255.76,323.90) scale(1.180,1.000)" font-family="Liberation Serif, serif" font-size="29.3" font-style="italic" fill="#000">m</text>
<text transform="translate(281.17,328.10)" font-family="Liberation Serif, serif" font-size="20.8" fill="#000">1</text>
<text transform="translate(299.44,327.10) scale(1.424,1.000)" font-family="Liberation Serif, serif" font-size="29.0" fill="#000">=</text>
<text transform="translate(329.99,323.90)" font-family="Liberation Serif, serif" font-size="29.3" fill="#000">0</text>
<text transform="translate(353.92,323.90) scale(1.120,1.000)" font-family="Liberation Serif, serif" font-size="29.3" fill="#000">e</text>
<text transform="translate(366.10,323.90) scale(0.930,1.000)" font-family="Liberation Serif, serif" font-size="29.3" fill="#000">V</text>
<text transform="translate(255.76,389.90) scale(1.180,1.000)" font-family="Liberation Serif, serif" font-size="29.3" font-style="italic" fill="#000">m</text>
<text transform="translate(281.17,394.10)" font-family="Liberation Serif, serif" font-size="20.8" fill="#000">1</text>
<text transform="translate(299.44,393.10) scale(1.424,1.000)" font-family="Liberation Serif, serif" font-size="29.0" fill="#000">=</text>
<text transform="translate(329.99,389.90)" font-family="Liberation Serif, serif" font-size="29.3" fill="#000">0.15</text>
<text transform="translate(390.32,389.90) scale(1.120,1.000)" font-family="Liberation Serif, serif" font-size="29.3" fill="#000">e</text>
<text transform="translate(402.50,389.90) scale(0.930,1.000)" font-family="Liberation Serif, serif" font-size="29.3" fill="#000">V</text>
<text transform="translate(374.96,503.30) scale(1.180,1.000)" font-family="Liberation Serif, serif" font-size="29.3" font-style="italic" fill="#000">m</text>
<text transform="translate(400.58,507.60)" font-family="Liberation Serif, serif" font-size="20.8" fill="#000">4</text>
<text transform="translate(422.75,505.50) scale(0.720,1.220)" font-family="Liberation Serif, serif" font-size="29.0" fill="#000">[</text>
<text transform="translate(428.75,503.30)" font-family="Liberation Serif, serif" font-size="29.3" fill="#000">M</text>
<text transform="translate(453.32,503.30) scale(1.120,1.000)" font-family="Liberation Serif, serif" font-size="29.3" fill="#000">e</text>
<text transform="translate(465.88,503.30)" font-family="Liberation Serif, serif" font-size="29.3" fill="#000">V</text>
<text transform="translate(485.59,505.50) scale(0.720,1.220)" font-family="Liberation Serif, serif" font-size="29.0" fill="#000">]</text>
<g transform="translate(27.30,306.40) rotate(-90)">
<text transform="translate(-2.02,0.00)" font-family="Liberation Serif, serif" font-size="31.0" font-style="italic" fill="#000">T</text>
<text transform="translate(17.23,-13.40) scale(1.100,1.000)" font-family="Liberation Serif, serif" font-size="20.8" fill="#000">0</text>
<text transform="translate(28.22,-13.00) scale(1.420,1.000)" font-family="Liberation Serif, serif" font-size="19.0" font-style="italic" fill="#000">ν</text>
<text transform="translate(15.57,7.00)" font-family="Liberation Serif, serif" font-size="20.8" fill="#000">1</text>
<text transform="translate(24.60,11.20)" font-family="Liberation Serif, serif" font-size="30.0" fill="#000">/</text>
<text transform="translate(32.97,7.00) scale(1.120,1.000)" font-family="Liberation Serif, serif" font-size="20.8" fill="#000">2</text>
<text transform="translate(48.34,1.00) scale(1.000,1.060)" font-family="Liberation Serif, serif" font-size="33.2" fill="#000" stroke="#fff" stroke-width="1.00">(</text>
<text transform="translate(58.03,-12.00)" font-family="Liberation Serif, serif" font-size="20.8" fill="#000">76</text>
<text transform="translate(77.77,0.00)" font-family="Liberation Serif, serif" font-size="30.0" fill="#000">G</text>
<text transform="translate(98.80,0.00) scale(1.200,1.000)" font-family="Liberation Serif, serif" font-size="30.0" fill="#000">e</text>
<text transform="translate(114.44,1.00) scale(1.000,1.060)" font-family="Liberation Serif, serif" font-size="33.2" fill="#000" stroke="#fff" stroke-width="1.00">)</text>
<text transform="translate(137.25,2.20) scale(0.720,1.220)" font-family="Liberation Serif, serif" font-size="29.0" fill="#000">[</text>
<text transform="translate(143.35,0.00)" font-family="Liberation Serif, serif" font-size="29.3" fill="#000">y</text>
<text transform="translate(157.80,0.00) scale(1.120,1.000)" font-family="Liberation Serif, serif" font-size="29.3" fill="#000">r</text>
<text transform="translate(168.69,2.20) scale(0.720,1.220)" font-family="Liberation Serif, serif" font-size="29.0" fill="#000">]</text>
</g>
<g transform="translate(856.60,310.60) rotate(-90)">
<text transform="translate(-2.02,0.00)" font-family="Liberation Serif, serif" font-size="31.0" font-style="italic" fill="#000">T</text>
<text transform="translate(17.23,-13.40) scale(1.100,1.000)" font-family="Liberation Serif, serif" font-size="20.8" fill="#000">0</text>
<text transform="translate(28.22,-13.00) scale(1.420,1.000)" font-family="Liberation Serif, serif" font-size="19.0" font-style="italic" fill="#000">ν</text>
<text transform="translate(15.57,7.00)" font-family="Liberation Serif, serif" font-size="20.8" fill="#000">1</text>
<text transform="translate(24.60,11.20)" font-family="Liberation Serif, serif" font-size="30.0" fill="#000">/</text>
<text transform="translate(32.97,7.00) scale(1.120,1.000)" font-family="Liberation Serif, serif" font-size="20.8" fill="#000">2</text>
<text transform="translate(48.34,1.00) scale(1.000,1.060)" font-family="Liberation Serif, serif" font-size="33.2" fill="#000" stroke="#fff" stroke-width="1.00">(</text>
<text transform="translate(59.27,-12.00)" font-family="Liberation Serif, serif" font-size="20.8" fill="#000">136</text>
<text transform="translate(88.85,0.00) scale(0.980,1.000)" font-family="Liberation Serif, serif" font-size="30.0" fill="#000">X</text>
<text transform="translate(108.60,0.00) scale(1.200,1.000)" font-family="Liberation Serif, serif" font-size="30.0" fill="#000">e</text>
<text transform="translate(123.14,1.00) scale(1.000,1.060)" font-family="Liberation Serif, serif" font-size="33.2" fill="#000" stroke="#fff" stroke-width="1.00">)</text>
<text transform="translate(145.65,2.20) scale(0.720,1.220)" font-family="Liberation Serif, serif" font-size="29.0" fill="#000">[</text>
<text transform="translate(151.75,0.00)" font-family="Liberation Serif, serif" font-size="29.3" fill="#000">y</text>
<text transform="translate(166.20,0.00) scale(1.120,1.000)" font-family="Liberation Serif, serif" font-size="29.3" fill="#000">r</text>
<text transform="translate(177.09,2.20) scale(0.720,1.220)" font-family="Liberation Serif, serif" font-size="29.0" fill="#000">]</text>
</g>
</svg>
</body></html>
